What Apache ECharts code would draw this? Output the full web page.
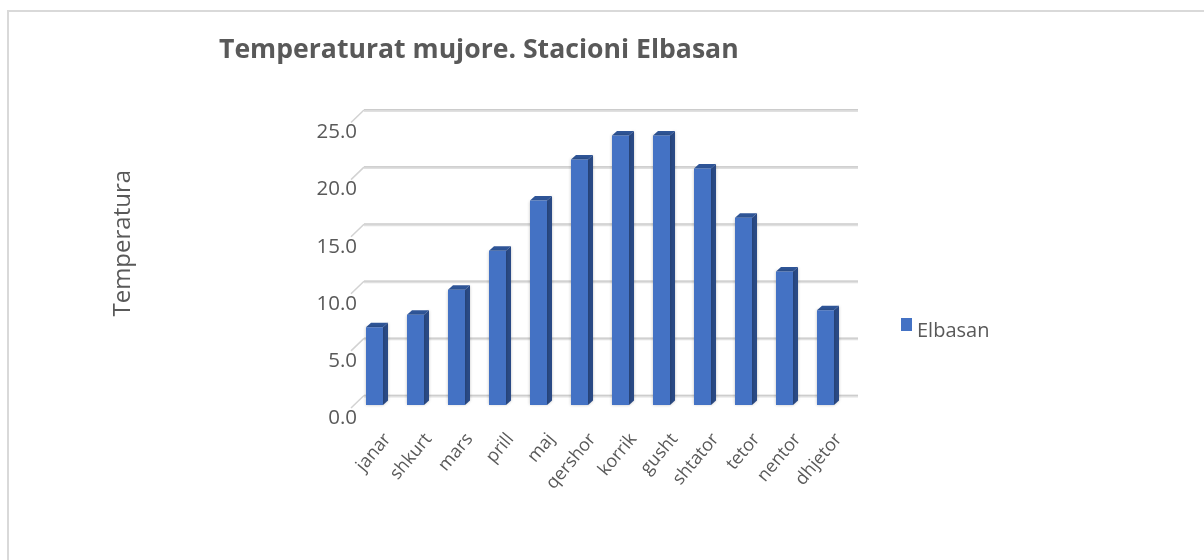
<!DOCTYPE html>
<html>
<head>
<meta charset="utf-8">
<style>html,body{margin:0;padding:0;background:#fff}#c{width:1204px;height:560px}</style>
<script src="https://cdn.jsdelivr.net/npm/echarts@6/dist/echarts.min.js"></script>
</head>
<body>
<div id="c"></div>
<script>
const categories = ['janar','shkurt','mars','prill','maj','qershor','korrik','gusht','shtator','tetor','nentor','dhjetor'];
const elbasan = [6.8,7.9,10.1,13.5,17.9,21.5,23.6,23.6,20.7,16.4,11.7,8.3];
const ticks = [0,5,10,15,20,25];
const seriesName = 'Elbasan';
const chartTitle = 'Temperaturat mujore. Stacioni Elbasan';
const yTitle = 'Temperatura';

const font = '"Open Sans", sans-serif';
const textColor = '#595959';

function renderWall(params, api) {
  const p = api.coord([0, api.value(0)]);
  const cs = params.coordSys;
  const xb = cs.x - 3, xr = cs.x + cs.width - 1, xf = cs.x - 16;
  const yf = p[1] - 10, yb = p[1] - 22.5;
  return {type:'group', children:[
    {type:'polyline', shape:{points:[[xf,yf],[xb,yb]]}, style:{stroke:'#d2d2d2',lineWidth:1.5,fill:null}},
    {type:'line', shape:{x1:xb,y1:yb+0.7,x2:xr,y2:yb+0.7}, style:{stroke:'#e0e0e0',lineWidth:2.5}},
    {type:'line', shape:{x1:xb,y1:yb-0.3,x2:xr,y2:yb-0.3}, style:{stroke:'#c4c4c4',lineWidth:1}}
  ]};
}

function renderBar(params, api) {
  const c = api.coord([api.value(0), api.value(1)]);
  const o = api.coord([api.value(0), 0]);
  const w = 17, dx = 5, dy = 4.5;
  const l = c[0] - 13 - w/2, r = l + w;
  const t = c[1] - 13, b = o[1] - 13;
  return {type:'group', children:[
    {type:'polygon', shape:{points:[[r,t],[r+dx,t-dy],[r+dx,b-dy],[r,b]]},
      style:{fill:'#2a4a85',shadowBlur:3,shadowColor:'rgba(0,0,0,0.25)'}},
    {type:'polygon', shape:{points:[[l,t],[l+dx,t-dy],[r+dx,t-dy],[r,t]]}, style:{fill:'#2f5597'}},
    {type:'rect', shape:{x:l,y:t,width:w,height:b-t},
      style:{fill:'#4472c4',shadowBlur:3,shadowColor:'rgba(0,0,0,0.25)'}}
  ]};
}

const chart = echarts.init(document.getElementById('c'), null, {renderer:'canvas'});
chart.setOption({
  animation:false,
  backgroundColor:'#fff',
  title:{text:chartTitle,left:214,top:32,textStyle:{fontFamily:font,fontSize:26.6,fontWeight:'bold',color:textColor}},
  legend:{data:[seriesName],left:896,top:313,icon:'rect',itemWidth:11,itemHeight:13,itemGap:5,
    formatter:'{a|{name}}',
    textStyle:{rich:{a:{fontFamily:font,fontSize:20,color:textColor,padding:[13,0,0,0]}}}},
  grid:{left:367,top:132.5,width:492,height:285.5},
  xAxis:{type:'category',data:categories,axisLine:{show:false},axisTick:{show:false},
    axisLabel:{interval:0,rotate:50,margin:18,fontFamily:font,fontSize:18,color:textColor}},
  yAxis:{type:'value',min:0,max:25,interval:5,splitLine:{show:false},axisLine:{show:false},axisTick:{show:false},
    name:yTitle,nameLocation:'middle',nameGap:232,nameRotate:90,
    nameTextStyle:{fontFamily:font,fontSize:24,color:textColor,padding:[0,0,0,64]},
    axisLabel:{margin:10,fontFamily:font,fontSize:20.5,color:textColor,formatter:v=>v.toFixed(1)}},
  graphic:[
    {type:'line',silent:true,shape:{x1:8,y1:11,x2:1204,y2:11},style:{stroke:'#d9d9d9',lineWidth:2}},
    {type:'line',silent:true,shape:{x1:8,y1:10,x2:8,y2:560},style:{stroke:'#d9d9d9',lineWidth:2}}
  ],
  series:[
    {type:'custom',name:'walls',silent:true,clip:false,z:1,data:ticks.map(t=>[t]),encode:{y:0},renderItem:renderWall},
    {type:'custom',name:seriesName,clip:false,z:2,itemStyle:{color:'#4472c4'},
      data:elbasan.map((v,i)=>[i,v]),encode:{x:0,y:1},renderItem:renderBar}
  ]
});
</script>
</body>
</html>
